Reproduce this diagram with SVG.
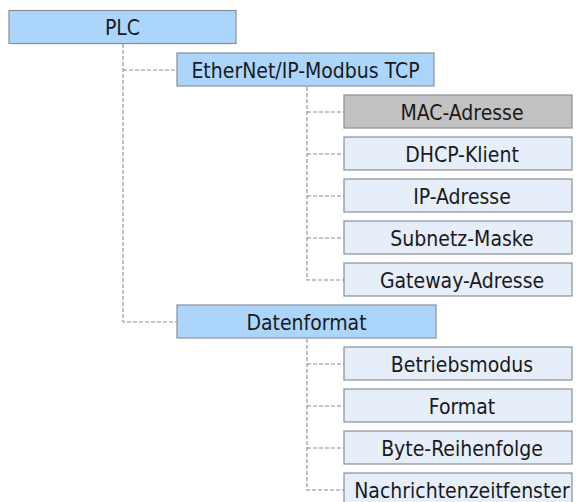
<svg xmlns="http://www.w3.org/2000/svg" width="576" height="502" viewBox="0 0 576 502">
<style>
.box{stroke:#8a8f96;stroke-width:1.2}
.l1{fill:#acd5fc}
.l2{fill:#e6eefa}
.sel{fill:#c2c2c2}
text{font-family:"DejaVu Sans Condensed","DejaVu Sans","Liberation Sans",sans-serif;font-stretch:condensed;font-size:21px;fill:#1a1a1a;text-anchor:middle}
.con{fill:none;stroke:#8c8c8c;stroke-width:1.1;stroke-dasharray:4 2}
</style>
<rect width="576" height="502" fill="#ffffff"/>
<g id="connectors">
<path class="con" d="M123 44 V322 H177 M123 70 H177"/>
<path class="con" d="M307 87 V280 H344 M307 112 H344 M307 154 H344 M307 196 H344 M307 238 H344"/>
<path class="con" d="M307 339 V490 H344 M307 364 H344 M307 406 H344 M307 448 H344"/>
</g>
<g id="plc"><rect class="box l1" x="9" y="10.5" width="227" height="33"/><text x="122.5" y="35">PLC</text></g>
<g id="ethernet"><rect class="box l1" x="177" y="53" width="257" height="33"/><text x="305.5" y="77.5">EtherNet/IP-Modbus TCP</text></g>
<g id="mac"><rect class="box sel" x="344" y="95" width="228" height="33"/><text x="462" y="119.5">MAC-Adresse</text></g>
<g id="dhcp"><rect class="box l2" x="344" y="137" width="228" height="33"/><text x="462" y="161.5">DHCP-Klient</text></g>
<g id="ip"><rect class="box l2" x="344" y="179" width="228" height="33"/><text x="462" y="203.5">IP-Adresse</text></g>
<g id="subnet"><rect class="box l2" x="344" y="221" width="228" height="33"/><text x="462" y="245.5">Subnetz-Maske</text></g>
<g id="gateway"><rect class="box l2" x="344" y="263" width="228" height="33"/><text x="462" y="287.5">Gateway-Adresse</text></g>
<g id="datenformat"><rect class="box l1" x="177" y="305" width="259" height="33"/><text x="306.5" y="329.5">Datenformat</text></g>
<g id="betriebsmodus"><rect class="box l2" x="344" y="347" width="228" height="33"/><text x="462" y="371.5">Betriebsmodus</text></g>
<g id="format"><rect class="box l2" x="344" y="389" width="228" height="33"/><text x="462" y="413.5">Format</text></g>
<g id="byte"><rect class="box l2" x="344" y="431" width="228" height="33"/><text x="462" y="455.5">Byte-Reihenfolge</text></g>
<g id="nachricht"><rect class="box l2" x="344" y="473" width="228" height="33"/><text x="462" y="497.5">Nachrichtenzeitfenster</text></g>
</svg>
